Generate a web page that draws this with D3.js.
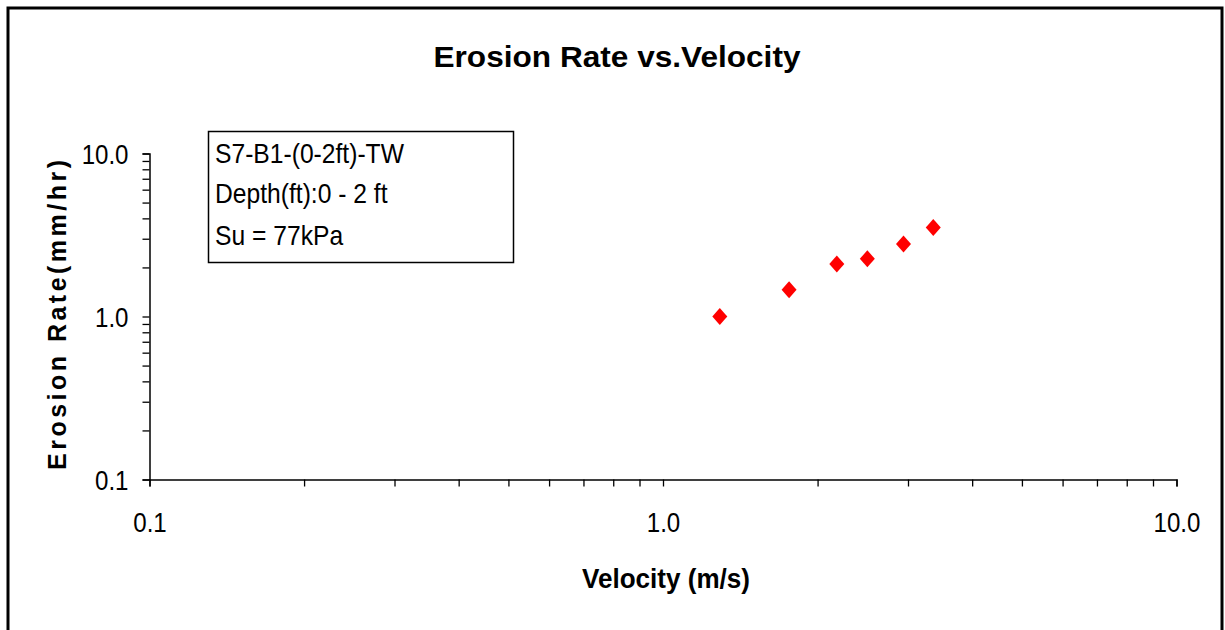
<!DOCTYPE html>
<html>
<head>
<meta charset="utf-8">
<script src="https://cdn.jsdelivr.net/npm/d3@7"></script>
<style>
  body { margin: 0; background: #fff; }
  svg text { font-family: "Liberation Sans", Arial, sans-serif; fill: #000; }
</style>
</head>
<body>
<svg id="chart" width="1225" height="630"></svg>
<script>
// data
var velocity = [1.29, 1.76, 2.18, 2.50, 2.94, 3.36];
var erosionRate = [1.00, 1.46, 2.10, 2.26, 2.78, 3.52];
var decadeLabels = {0.1: "0.1", 1: "1.0", 10: "10.0"};
var legendLines = ["S7-B1-(0-2ft)-TW", "Depth(ft):0 - 2 ft", "Su = 77kPa"];

var points = velocity.map(function(v, i){ return {v: v, e: erosionRate[i]}; });

var logTicks = [];
[0.1, 1].forEach(function(dec){
  for (var k = 1; k < 10; k++) logTicks.push(+(dec*k).toFixed(2));
});
logTicks.push(10);

var vis = d3.select("#chart");

// outer frame (bottom edge runs off the picture)
vis.append("rect")
  .attr("x", 8).attr("y", 8)
  .attr("width", 1214).attr("height", 700)
  .attr("fill", "none").attr("stroke", "#000").attr("stroke-width", 3);

var xRange = d3.scaleLog().domain([0.1, 10]).range([149.5, 1176.5]);
var yRange = d3.scaleLog().domain([0.1, 10]).range([479.5, 153.5]);

// squeeze text horizontally like the original rendering
function squeeze(sel, k) {
  sel.each(function(){
    var w = this.getComputedTextLength();
    d3.select(this).attr("textLength", w*k).attr("lengthAdjust", "spacingAndGlyphs");
  });
}

var fmt = function(d){ return decadeLabels[d] || ""; };

var xAxis = d3.axisBottom(xRange).tickValues(logTicks).tickFormat(fmt)
  .tickSize(7).tickPadding(26);
var yAxis = d3.axisLeft(yRange).tickValues(logTicks).tickFormat(fmt)
  .tickSize(7).tickPadding(14);

var gx = vis.append("g").attr("transform", "translate(0,479.5)").call(xAxis);
var gy = vis.append("g").attr("transform", "translate(149.5,0)").call(yAxis);

[gx, gy].forEach(function(g){
  g.select(".domain").attr("stroke", "#000").attr("stroke-width", 1.5);
  g.selectAll(".tick line").attr("stroke", "#000").attr("stroke-width", 1.3);
  g.selectAll(".tick text").style("font-size", "28px")
    .style("font-family", "'Liberation Sans', Arial, sans-serif").attr("fill", "#000");
  squeeze(g.selectAll(".tick text"), 0.86);
});
gy.selectAll(".tick text").attr("dy", "0.36em");

// markers
vis.append("g").selectAll("path").data(points).enter()
  .append("path")
  .attr("transform", function(d){ return "translate(" + xRange(d.v) + "," + yRange(d.e) + ")"; })
  .attr("d", "M0,-8.5L7.5,0L0,8.5L-7.5,0Z")
  .attr("fill", "#ff0000");

// title
vis.append("text")
  .attr("x", 617).attr("y", 67)
  .attr("text-anchor", "middle")
  .style("font-size", "30px").style("font-weight", "bold")
  .attr("textLength", 367).attr("lengthAdjust", "spacingAndGlyphs")
  .text("Erosion Rate vs.Velocity");

// axis titles
vis.append("text")
  .attr("x", 666).attr("y", 588)
  .attr("text-anchor", "middle")
  .style("font-size", "27px").style("font-weight", "bold")
  .attr("textLength", 168).attr("lengthAdjust", "spacingAndGlyphs")
  .text("Velocity (m/s)");

vis.append("text")
  .attr("transform", "translate(66,315) rotate(-90)")
  .attr("text-anchor", "middle")
  .style("font-size", "25px").style("font-weight", "bold")
  .attr("textLength", 310).attr("lengthAdjust", "spacing")
  .text("Erosion Rate(mm/hr)");

// info box
vis.append("rect")
  .attr("x", 208.5).attr("y", 131.5)
  .attr("width", 305).attr("height", 131)
  .attr("fill", "#fff").attr("stroke", "#000").attr("stroke-width", 1.5);

var info = vis.append("g").selectAll("text").data(legendLines).enter()
  .append("text")
  .attr("x", 215)
  .attr("y", function(d, i){ return [163, 203, 245][i]; })
  .style("font-size", "28px")
  .text(function(d){ return d; });
squeeze(info, 0.88);
</script>
</body>
</html>
